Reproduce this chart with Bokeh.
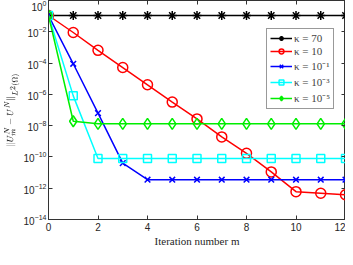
from bokeh.plotting import figure
from bokeh.models import FixedTicker, LinearAxis, LogAxis, Legend, LegendItem, Range1d, CustomJSTickFormatter
from bokeh.embed import file_html
from bokeh.resources import INLINE

m = [0, 1, 2, 3, 4, 5, 6, 7, 8, 9, 10, 11, 12]
err_k70 = [0.11] * 13
err_k10 = [0.11, 9e-3, 6.5e-4, 5.2e-5, 4.1e-6, 3.2e-7, 2.7e-8, 1.9e-9, 1.7e-10, 1.1e-11, 6.0e-13, 4.8e-13, 3.8e-13]
err_k1e1 = [0.11, 9e-5, 6.3e-8, 4.0e-11, 3.5e-12, 3.5e-12, 3.5e-12, 3.5e-12, 3.5e-12, 3.5e-12, 3.5e-12, 3.5e-12, 3.5e-12]
err_k1e3 = [0.11, 8e-7, 8e-11, 8e-11, 8e-11, 8e-11, 8e-11, 8e-11, 8e-11, 8e-11, 8e-11, 8e-11, 8e-11]
err_k1e5 = [0.11, 1.9e-8, 1.3e-8, 1.3e-8, 1.3e-8, 1.3e-8, 1.3e-8, 1.3e-8, 1.3e-8, 1.3e-8, 1.3e-8, 1.3e-8, 1.3e-8]
labels = ["κ = 70", "κ = 10", "κ = 10⁻¹", "κ = 10⁻³", "κ = 10⁻⁵"]
y_ticks = [1e-14, 1e-12, 1e-10, 1e-8, 1e-6, 1e-4, 1e-2, 1]
x_ticks = [0, 2, 4, 6, 8, 10, 12]

p = figure(width=345, height=249, y_axis_type="log", output_backend="svg",
           toolbar_location=None, x_range=Range1d(0, 12), y_range=Range1d(1e-14, 1),
           min_border_left=0, min_border_right=0, min_border_top=0, min_border_bottom=0)
p.grid.visible = False
p.outline_line_color = "#333333"
p.outline_line_width = 1

tick_font = "Liberation Sans"
for ax in p.xaxis + p.yaxis:
    ax.major_tick_in = 4
    ax.major_tick_out = 0
    ax.minor_tick_line_color = None
    ax.axis_line_color = "#333333"
    ax.major_tick_line_color = "#333333"
    ax.major_label_text_font = tick_font
    ax.major_label_text_font_size = "10px"
    ax.major_label_text_color = "#262626"
    ax.axis_label_text_font = "Liberation Serif"
    ax.axis_label_text_font_style = "normal"
    ax.axis_label_text_color = "#262626"
p.xaxis.ticker = FixedTicker(ticks=x_ticks)
p.yaxis.ticker = FixedTicker(ticks=y_ticks)
p.xaxis.axis_label = "Iteration number m"
p.xaxis.axis_label_text_font_size = "11px"
p.xaxis.axis_label_standoff = 1
p.xaxis.major_label_standoff = 3
p.yaxis.axis_label = r"$$\|U_m^N - U^N\|_{L^2(\Omega)}$$"
p.yaxis.axis_label_text_font_size = "8px"
p.yaxis.axis_label_standoff = 1
p.yaxis.major_label_standoff = 2

top = LinearAxis(ticker=FixedTicker(ticks=x_ticks), major_tick_in=4, major_tick_out=0,
                 major_label_text_color=None, axis_line_color="#333333",
                 major_tick_line_color="#333333", minor_tick_line_color=None,
                 major_label_standoff=0, formatter=CustomJSTickFormatter(code="return ''"))
right = LogAxis(ticker=FixedTicker(ticks=y_ticks), major_tick_in=4, major_tick_out=0,
                major_label_text_color=None, axis_line_color="#333333",
                major_tick_line_color="#333333", minor_tick_line_color=None,
                major_label_standoff=0, formatter=CustomJSTickFormatter(code="return ''"))
p.add_layout(top, "above")
p.add_layout(right, "right")

series = [err_k70, err_k10, err_k1e1, err_k1e3, err_k1e5]
colors = ["black", "red", "blue", "cyan", "#00ee00"]
markers = ["asterisk", "circle", "x", "square", "diamond"]
sizes = [9, 10, 8, 8, 11]
items = []
for ys, c, mk, sz, lab in zip(series, colors, markers, sizes, labels):
    l = p.line(m, ys, line_color=c, line_width=1.5)
    s = p.scatter(m, ys, marker=mk, size=sz, line_color=c, line_width=1.5,
                  fill_color=None)
    items.append(LegendItem(label=lab, renderers=[l, s]))

leg = Legend(items=items, location=(218, 110))
leg.label_text_font = "Liberation Serif"
leg.label_text_font_size = "11px"
leg.label_height = 12
leg.glyph_height = 12
leg.glyph_width = 22
leg.spacing = 1
leg.padding = 3
leg.margin = 0
leg.label_standoff = 2
leg.border_line_color = "#333333"
leg.background_fill_color = "white"
p.add_layout(leg)

open("out.html", "w").write(file_html(p, INLINE))
